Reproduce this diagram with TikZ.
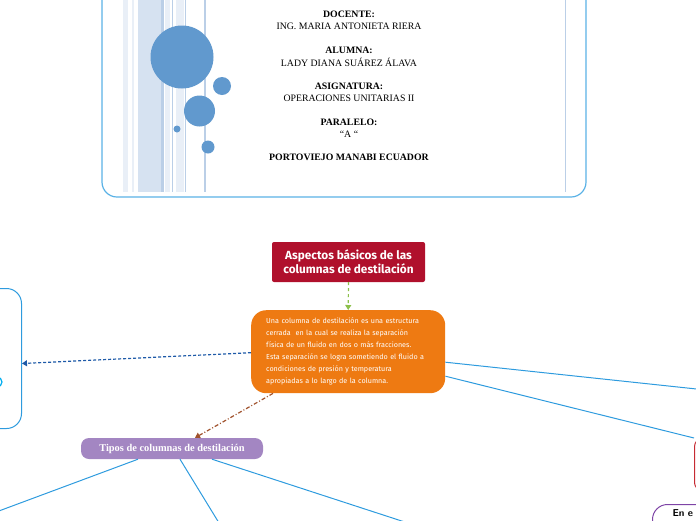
\documentclass[tikz,border=0pt]{standalone}
\usepackage{fontspec}
\setmainfont{Liberation Serif}
\newfontfamily\handfont{Fira Sans}
\usetikzlibrary{arrows.meta}

\definecolor{frameblue}{HTML}{5AB2E6}
\definecolor{dotblue}{HTML}{6199CE}
\definecolor{stripe}{HTML}{D6E2F1}
\definecolor{stripelight}{HTML}{E9EFF7}
\definecolor{stripedark}{HTML}{BBCFE7}
\definecolor{titlered}{HTML}{B0102C}
\definecolor{defnorange}{HTML}{EE7A12}
\definecolor{tipospurple}{HTML}{A386C2}
\definecolor{linkblue}{HTML}{2E9BDE}
\definecolor{linkgreen}{HTML}{8CC04B}
\definecolor{linkdark}{HTML}{1E5AA8}
\definecolor{linkbrown}{HTML}{A0522D}
\definecolor{boxred}{HTML}{C62A32}
\definecolor{boxpurple}{HTML}{7E44A6}

\tikzset{
	headline/.style={font=\bfseries\fontsize{9.8}{11}\selectfont},
	plainline/.style={font=\fontsize{9.8}{11}\selectfont},
	link/.style={linkblue, line width=1pt},
}

\begin{document}
\begin{tikzpicture}[x=1pt, y=-1pt]
	\useasboundingbox (0,0) rectangle (696,520);
	\clip (0,0) rectangle (696,520);

	% cover slide
	\begin{scope}
		\clip [rounded corners=15] (102,-30) rectangle (586,197);
		\fill [white] (102,-30) rectangle (586,197);
		\fill [stripelight] (123,-30) rectangle (128,192);
		\fill [stripelight] (132,-30) rectangle (134,192);
		\fill [stripe] (138,-30) rectangle (162,192);
		\fill [stripedark] (161,-30) rectangle (163.5,192);
		\fill [stripelight] (165,-30) rectangle (170,192);
		\fill [stripedark] (171.5,-30) rectangle (173,192);
		\fill [stripelight] (176,-30) rectangle (184,192);
		\fill [stripedark] (184.5,-30) rectangle (186,192);
		\fill [stripedark] (204,-30) rectangle (205.5,192);
		\fill [stripedark] (564.5,-30) rectangle (566,192);
	\end{scope}
	\draw [frameblue, line width=1.2pt, rounded corners=15] (102,-30) rectangle (586,197);

	\fill [dotblue] (182,57) circle (31.5);
	\fill [dotblue] (222,86) circle (9);
	\fill [dotblue] (199.5,111) circle (15.5);
	\fill [dotblue] (177,129) circle (3.5);
	\fill [dotblue] (208,147) circle (6.5);

	\node [headline] (docente) at (349,14) {DOCENTE:};
	\node [plainline] (docname) at (349,26) {ING. MARIA ANTONIETA RIERA};
	\node [headline] (alumna) at (349,50) {ALUMNA:};
	\node [plainline] (aluname) at (349,62) {LADY DIANA SUÁREZ ÁLAVA};
	\node [headline] (asig) at (349,86) {ASIGNATURA:};
	\node [plainline] (asigname) at (349,98) {OPERACIONES UNITARIAS II};
	\node [headline] (paralelo) at (349,122) {PARALELO:};
	\node [plainline] (parname) at (349,134) {“A “};
	\node [headline] (ciudad) at (349,157) {PORTOVIEJO MANABI ECUADOR};

	% map
	\node [fill=titlered, rounded corners=2, minimum width=153, minimum height=40, text=white,
		align=center, font=\handfont\bfseries\fontsize{11.8}{14}\selectfont] (title) at (348.5,262)
		{Aspectos básicos de las\\columnas de destilación};

	\node [fill=defnorange, rounded corners=15, text=white, anchor=north west,
		text width=164, inner xsep=15, minimum height=83, align=left,
		font=\handfont\fontsize{7.2}{12}\selectfont] (defn) at (251,310)
		{Una columna de destilación es una estructura\\
		cerrada \ en la cual se realiza la separación\\
		física de un fluido en dos o más fracciones.\\
		Esta separación se logra sometiendo el fluido a\\
		condiciones de presión y temperatura\\
		apropiadas a lo largo de la columna.};

	\node [fill=tipospurple, rounded corners=8, text=white, minimum width=182, minimum height=21,
		font=\bfseries\fontsize{10.4}{12}\selectfont] (tipos) at (172,448.5)
		{Tipos de columnas de destilación};

	\node [draw=linkblue, line width=1pt, rounded corners=15, anchor=north east,
		minimum width=200, minimum height=140] (concepto) at (22,288) {};
	\node [draw=cyan, line width=1.2pt, circle, minimum size=10, inner sep=0] (icono) at (-3,382) {};

	\node [draw=boxred, line width=1pt, rounded corners=8, anchor=north west,
		minimum width=100, minimum height=52] (rojo) at (694,438) {};
	\node [draw=boxpurple, line width=1pt, rounded corners=15, anchor=north west,
		minimum width=100, text width=80, align=left, inner xsep=20, inner ysep=4,
		text height=8, text depth=25, font=\sffamily\bfseries\fontsize{10}{12}\selectfont] (morado) at (652,504)
		{En e};

	\coordinate (offright) at (720,391.5);
	\coordinate (offleft) at (-20,518);
	\coordinate (offmid) at (227,536);
	\coordinate (offbot) at (460,540);

	\draw [linkgreen, line width=1.2pt, dashed, -{Triangle[length=5pt,width=6pt]}] (title.south) -- (defn.north);
	\draw [linkdark, line width=1.2pt, densely dashed, -{Triangle[length=5pt,width=6pt]}]
		([yshift=-1pt]defn.west) -- ([yshift=-5pt]concepto.east);
	\draw [linkbrown, line width=1.2pt, dash pattern=on 4pt off 2pt on 1pt off 2pt,
		-{Triangle[length=5pt,width=6pt]}] ([xshift=22pt]defn.south west) -- ([xshift=23pt]tipos.north);

	\draw [link] ([yshift=-10.5pt]defn.east) -- (offright);
	\draw [link] ([yshift=-24.5pt]defn.east) -- (rojo.north west);

	\draw [link] ([xshift=-34pt]tipos.south) -- (offleft);
	\draw [link] ([xshift=8pt]tipos.south) -- (offmid);
	\draw [link] ([xshift=40pt]tipos.south) -- (offbot);
\end{tikzpicture}
\end{document}
